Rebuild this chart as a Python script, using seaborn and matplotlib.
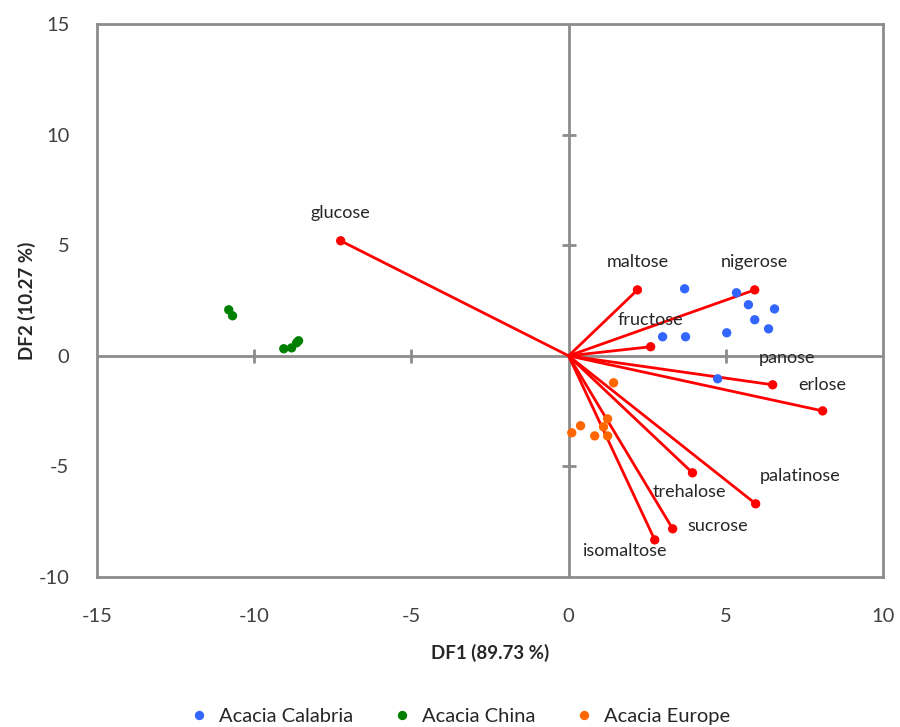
import matplotlib
matplotlib.use("Agg")
import matplotlib.pyplot as plt
import seaborn as sns
import pandas as pd

# Sample scores on the two discriminant functions
calabria_df1 = [3.69, 5.34, 5.72, 6.55, 5.92, 6.36, 5.03, 2.99, 3.72, 4.74]
calabria_df2 = [3.03, 2.85, 2.31, 2.12, 1.63, 1.22, 1.04, 0.86, 0.86, -1.04]
china_df1 = [-10.81, -10.69, -9.06, -8.81, -8.65, -8.59]
china_df2 = [2.08, 1.81, 0.32, 0.36, 0.59, 0.68]
europe_df1 = [1.43, 1.24, 1.11, 0.38, 0.10, 0.83, 1.24]
europe_df2 = [-1.22, -2.85, -3.21, -3.16, -3.48, -3.62, -3.62]

# Variable loadings (vector tips)
sugars = ["glucose", "maltose", "nigerose", "fructose", "panose", "erlose",
          "trehalose", "palatinose", "sucrose", "isomaltose"]
sugar_df1 = [-7.25, 2.19, 5.92, 2.61, 6.49, 8.08, 3.94, 5.95, 3.31, 2.74]
sugar_df2 = [5.20, 2.98, 2.98, 0.41, -1.31, -2.49, -5.29, -6.69, -7.82, -8.32]

groups = ["Acacia Calabria", "Acacia China", "Acacia Europe"]
palette = {"Acacia Calabria": "#3366FF", "Acacia China": "#008000",
           "Acacia Europe": "#FF6600"}

# label offsets in pixels (dx, dy) relative to each vector tip
label_offsets = {"glucose": (0, 28), "maltose": (0, 28), "nigerose": (0, 28),
                 "fructose": (0, 27), "panose": (14, 27), "erlose": (0, 26),
                 "trehalose": (-3, -19), "palatinose": (44, 28),
                 "sucrose": (45, 3), "isomaltose": (-30, -11)}

samples = pd.DataFrame({
    "DF1": calabria_df1 + china_df1 + europe_df1,
    "DF2": calabria_df2 + china_df2 + europe_df2,
    "group": [groups[0]] * len(calabria_df1) + [groups[1]] * len(china_df1)
             + [groups[2]] * len(europe_df1),
})

sns.set_theme(style="white")
plt.rcParams["font.family"] = ["Lato", "DejaVu Sans"]
plt.rcParams["axes.unicode_minus"] = False

fig = plt.figure(figsize=(9, 7.27), dpi=100)
ax = fig.add_axes([0.1078, 0.2063, 0.8733, 0.7607])

gray = "#8C8C8C"
ax.axhline(0, color=gray, lw=2, zorder=1)
ax.axvline(0, color=gray, lw=2, zorder=1)
for t in [-10, -5, 5]:
    ax.plot(t, 0, marker="|", ms=10, mew=2, color=gray, zorder=1)
for t in [-5, 5, 10]:
    ax.plot(0, t, marker="_", ms=10, mew=2, color=gray, zorder=1)

for name, x, y in zip(sugars, sugar_df1, sugar_df2):
    ax.plot([0, x], [0, y], color="#FF0000", lw=2, zorder=2)
sns.scatterplot(x=sugar_df1, y=sugar_df2, color="#FF0000", s=45,
                edgecolor="none", ax=ax, zorder=3, legend=False)
for name, x, y in zip(sugars, sugar_df1, sugar_df2):
    dx, dy = label_offsets[name]
    ax.annotate(name, (x, y), xytext=(dx * 0.72, dy * 0.72),
                textcoords="offset points", ha="center", va="center",
                fontsize=13, color="#262626", zorder=4)

sns.scatterplot(data=samples, x="DF1", y="DF2", hue="group",
                hue_order=groups, palette=palette, s=45, edgecolor="none",
                ax=ax, zorder=3)

ax.set_xlim(-15, 10)
ax.set_ylim(-10, 15)
ax.set_xticks([-15, -10, -5, 0, 5, 10])
ax.set_yticks([-10, -5, 0, 5, 10, 15])
ax.tick_params(axis="both", length=0, labelsize=14.5, colors="#404040")
ax.tick_params(axis="x", pad=22)
ax.tick_params(axis="y", pad=20)
for sp in ax.spines.values():
    sp.set_color(gray)
    sp.set_linewidth(2)
ax.set_xlabel("DF1 (89.73 %)", fontsize=13.5, fontweight="bold",
              color="#262626", labelpad=14)
ax.set_ylabel("DF2 (10.27 %)", fontsize=13.5, fontweight="bold",
              color="#262626", labelpad=2)

handles, labels = ax.get_legend_handles_labels()
ax.get_legend().remove()
fig.legend(handles, labels, loc="lower center", bbox_to_anchor=(0.505, -0.022),
           ncol=3, frameon=False, fontsize=14.5, handletextpad=0.0,
           columnspacing=1.4, markerscale=1.0)

fig.savefig("out.png", dpi=100)
